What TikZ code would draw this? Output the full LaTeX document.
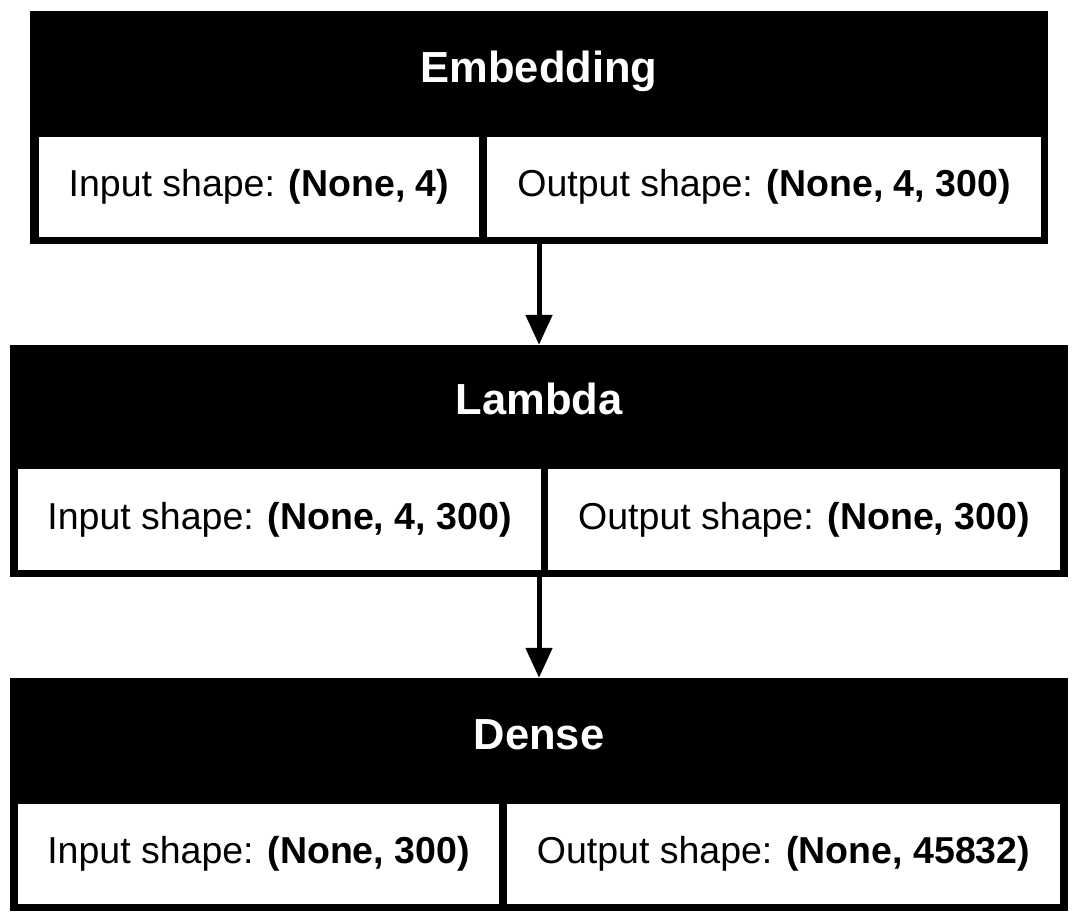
\documentclass[tikz,border=0pt]{standalone}
\usepackage{fontspec}
\setmainfont{Liberation Sans}
\usetikzlibrary{positioning, calc, arrows.meta}
\newcommand{\cellfont}{\fontsize{37.5}{45}\selectfont}
\newcommand{\titlefont}{\fontsize{43.5}{52}\selectfont\bfseries}
\tikzset{
  layer/.style={fill=black, inner sep=0pt, rectangle},
  title/.style={text=white, font=\titlefont, inner sep=0pt},
  cell/.style={fill=white, inner sep=0pt, rectangle, font=\cellfont},
  link/.style={line width=5pt, -{Triangle[length=30pt,width=26pt]}}
}
\begin{document}
\begin{tikzpicture}[x=1pt,y=-1pt]
        \useasboundingbox[fill=white] (0,0) rectangle (1078,922);
        % Embedding
        \node[layer, minimum width=1018pt, minimum height=233pt] (emb) at (539,127.5) {};
        \node[title] (embtitle) at (539,71) {Embedding};
        \node[cell, minimum width=440pt, minimum height=100pt] (embin) at (259,187) {Input shape: \textbf{(None, 4)}};
        \node[cell, minimum width=554pt, minimum height=100pt] (embout) at (764,187) {Output shape: \textbf{(None, 4, 300)}};
        % Lambda
        \node[layer, minimum width=1058pt, minimum height=232pt] (lam) at (539,461) {};
        \node[title] (lamtitle) at (539,399) {Lambda};
        \node[cell, minimum width=523pt, minimum height=101pt] (lamin) at (279.5,519.5) {Input shape: \textbf{(None, 4, 300)}};
        \node[cell, minimum width=512pt, minimum height=101pt] (lamout) at (804,519.5) {Output shape: \textbf{(None, 300)}};
        % Dense
        \node[layer, minimum width=1058pt, minimum height=233pt] (den) at (539,794.5) {};
        \node[title] (dentitle) at (539,735) {Dense};
        \node[cell, minimum width=481pt, minimum height=100pt] (denin) at (258.5,854) {Input shape: \textbf{(None, 300)}};
        \node[cell, minimum width=553pt, minimum height=100pt] (denout) at (783.5,854) {Output shape: \textbf{(None, 45832)}};
        % links
        \draw[link] (emb.south) -- (lam.north);
        \draw[link] (lam.south) -- (den.north);
\end{tikzpicture}
\end{document}
